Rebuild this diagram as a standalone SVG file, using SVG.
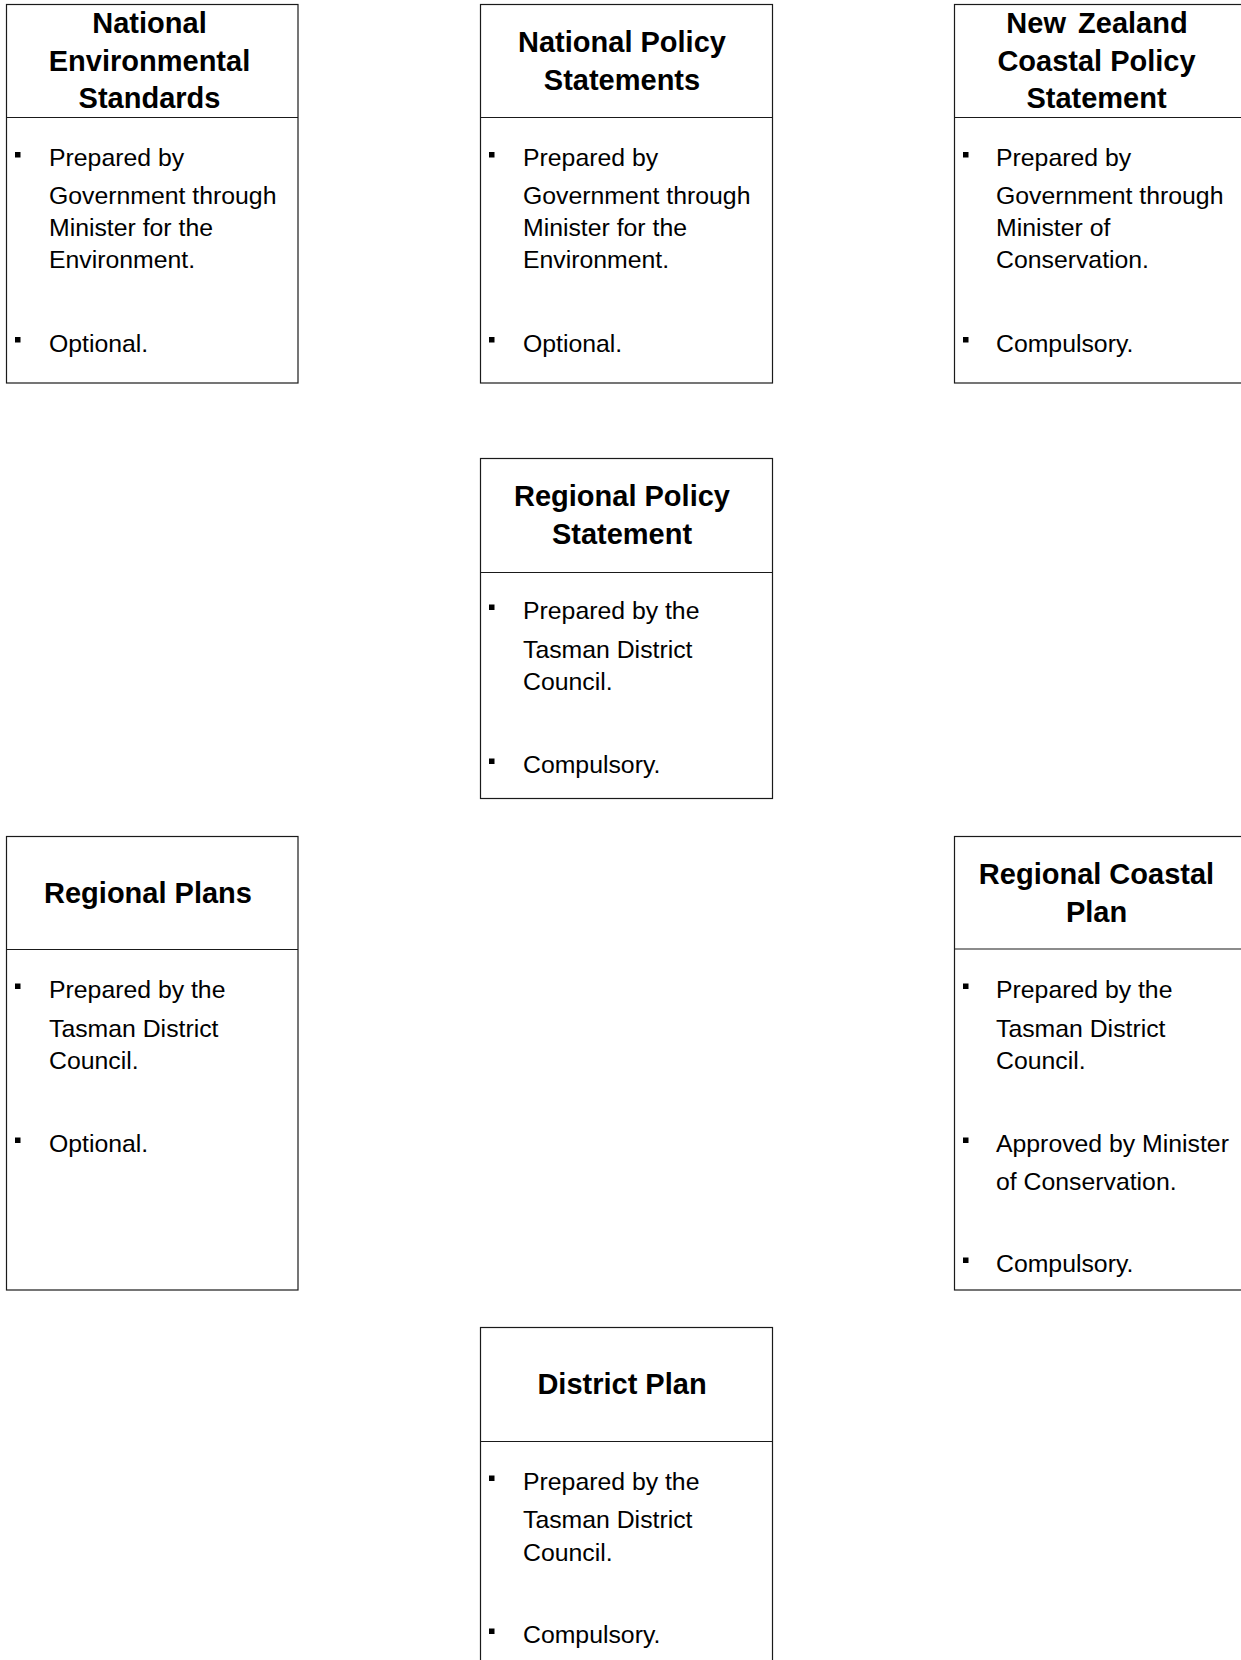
<svg xmlns="http://www.w3.org/2000/svg" width="1241" height="1660" viewBox="0 0 1241 1660">
<style>
.box{fill:#fff;stroke:#1a1a1a;stroke-width:1.2}
.div{stroke:#1a1a1a;stroke-width:1.2}
.t{font-family:"Liberation Sans",Arial,sans-serif;font-weight:bold;font-size:29px;fill:#000;text-anchor:middle}
.b{font-family:"Liberation Sans",Arial,sans-serif;font-size:24.8px;fill:#000}
.bl{fill:#000}
</style>
<rect width="1241" height="1660" fill="#fff"/>
<g id="connectors"/>
<g id="nes">
<rect class="box" x="6.5" y="4.5" width="291.5" height="378.5"/>
<line class="div" x1="6.5" y1="117.5" x2="298" y2="117.5"/>
<text class="t"><tspan x="149.5" y="33">National</tspan><tspan x="149.5" y="70.5">Environmental</tspan><tspan x="149.5" y="108">Standards</tspan></text>
<rect class="bl" x="15" y="152" width="5.5" height="5.5"/>
<rect class="bl" x="15" y="337" width="5.5" height="5.5"/>
<text class="b"><tspan x="49" y="166">Prepared by</tspan><tspan x="49" y="203.5">Government through</tspan><tspan x="49" y="235.5">Minister for the</tspan><tspan x="49" y="267.5">Environment.</tspan><tspan x="49" y="351.5">Optional.</tspan></text>
</g>
<g id="nps">
<rect class="box" x="480.5" y="4.5" width="292" height="378.5"/>
<line class="div" x1="480.5" y1="117.5" x2="772.5" y2="117.5"/>
<text class="t"><tspan x="622" y="52">National Policy</tspan><tspan x="622" y="90">Statements</tspan></text>
<rect class="bl" x="489" y="152" width="5.5" height="5.5"/>
<rect class="bl" x="489" y="337" width="5.5" height="5.5"/>
<text class="b"><tspan x="523" y="166">Prepared by</tspan><tspan x="523" y="203.5">Government through</tspan><tspan x="523" y="235.5">Minister for the</tspan><tspan x="523" y="267.5">Environment.</tspan><tspan x="523" y="351.5">Optional.</tspan></text>
</g>
<g id="nzcps">
<rect class="box" x="954.5" y="4.5" width="292" height="378.5"/>
<line class="div" x1="954.5" y1="117.5" x2="1246" y2="117.5"/>
<text class="t"><tspan x="1097" y="33" word-spacing="4">New Zealand</tspan><tspan x="1096.5" y="70.5">Coastal Policy</tspan><tspan x="1096.5" y="108">Statement</tspan></text>
<rect class="bl" x="963" y="152" width="5.5" height="5.5"/>
<rect class="bl" x="963" y="337" width="5.5" height="5.5"/>
<text class="b"><tspan x="996" y="166">Prepared by</tspan><tspan x="996" y="203.5">Government through</tspan><tspan x="996" y="235.5">Minister of</tspan><tspan x="996" y="267.5">Conservation.</tspan><tspan x="996" y="351.5">Compulsory.</tspan></text>
</g>
<g id="rps">
<rect class="box" x="480.5" y="458.5" width="292" height="340"/>
<line class="div" x1="480.5" y1="572.5" x2="772.5" y2="572.5"/>
<text class="t"><tspan x="622" y="506">Regional Policy</tspan><tspan x="622" y="544">Statement</tspan></text>
<rect class="bl" x="489" y="604.5" width="5.5" height="5.5"/>
<rect class="bl" x="489" y="758.5" width="5.5" height="5.5"/>
<text class="b"><tspan x="523" y="619">Prepared by the</tspan><tspan x="523" y="657.5">Tasman District</tspan><tspan x="523" y="690">Council.</tspan><tspan x="523" y="773">Compulsory.</tspan></text>
</g>
<g id="rp">
<rect class="box" x="6.5" y="836.5" width="291.5" height="453.5"/>
<line class="div" x1="6.5" y1="949.5" x2="298" y2="949.5"/>
<text class="t" x="148" y="902.5">Regional Plans</text>
<rect class="bl" x="15" y="983.5" width="5.5" height="5.5"/>
<rect class="bl" x="15" y="1137.5" width="5.5" height="5.5"/>
<text class="b"><tspan x="49" y="998">Prepared by the</tspan><tspan x="49" y="1036.5">Tasman District</tspan><tspan x="49" y="1069">Council.</tspan><tspan x="49" y="1152">Optional.</tspan></text>
</g>
<g id="rcp">
<rect class="box" x="954.5" y="836.5" width="292" height="453.5"/>
<line class="div" x1="954.5" y1="949" x2="1246" y2="949"/>
<text class="t"><tspan x="1096.5" y="884">Regional Coastal</tspan><tspan x="1096.5" y="922">Plan</tspan></text>
<rect class="bl" x="963" y="983.5" width="5.5" height="5.5"/>
<rect class="bl" x="963" y="1137.5" width="5.5" height="5.5"/>
<rect class="bl" x="963" y="1257.5" width="5.5" height="5.5"/>
<text class="b"><tspan x="996" y="998">Prepared by the</tspan><tspan x="996" y="1036.5">Tasman District</tspan><tspan x="996" y="1069">Council.</tspan><tspan x="996" y="1152">Approved by Minister</tspan><tspan x="996" y="1190">of Conservation.</tspan><tspan x="996" y="1272">Compulsory.</tspan></text>
</g>
<g id="dp">
<rect class="box" x="480.5" y="1327.5" width="292" height="380"/>
<line class="div" x1="480.5" y1="1441.5" x2="772.5" y2="1441.5"/>
<text class="t" x="622" y="1394">District Plan</text>
<rect class="bl" x="489" y="1475.5" width="5.5" height="5.5"/>
<rect class="bl" x="489" y="1628.5" width="5.5" height="5.5"/>
<text class="b"><tspan x="523" y="1490">Prepared by the</tspan><tspan x="523" y="1528">Tasman District</tspan><tspan x="523" y="1560.5">Council.</tspan><tspan x="523" y="1643">Compulsory.</tspan></text>
</g>
</svg>
